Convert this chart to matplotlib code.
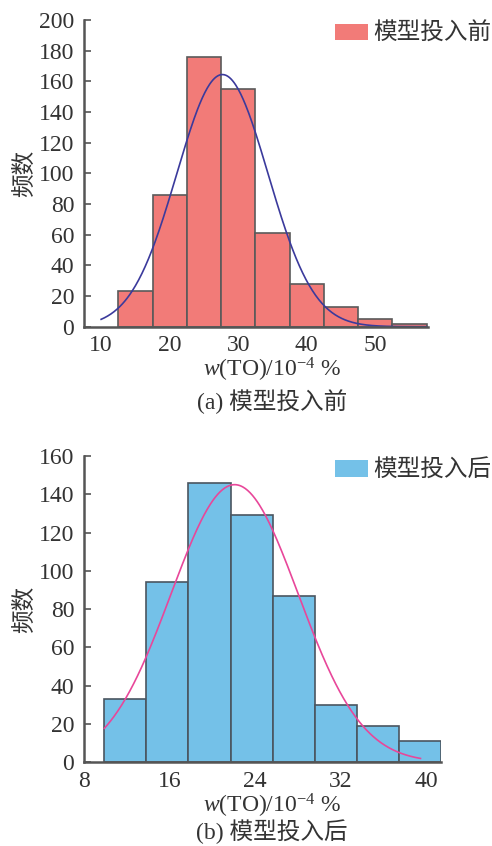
import numpy as np
import matplotlib
matplotlib.use('Agg')
import matplotlib.pyplot as plt

plt.rcParams['font.family'] = ['Liberation Serif', 'Noto Sans CJK SC']
plt.rcParams['mathtext.fontset'] = 'custom'
plt.rcParams['mathtext.rm'] = 'Liberation Serif'
plt.rcParams['mathtext.it'] = 'Liberation Serif:italic'

# Datos (a) modelo antes
edges_a = [12.5, 17.5, 22.5, 27.5, 32.5, 37.5, 42.5, 47.5, 52.5, 57.5]
counts_a = [23, 86, 176, 155, 61, 28, 13, 5, 2]
mu_a, sigma_a = 27.7, 6.66

# Datos (b) modelo después
edges_b = [9.9, 13.84, 17.78, 21.72, 25.66, 29.6, 33.54, 37.48, 41.42]
counts_b = [33, 94, 146, 129, 87, 30, 19, 11]
mu_b, sigma_b = 22.1, 5.95

txt = '#333333'
spine_c = '#555555'
fs = 17

fig = plt.figure(figsize=(4.92, 8.46), dpi=100)
ax1 = fig.add_axes([84/492, 1-326.7/846, (428-84)/492, (326.7-20)/846])
ax2 = fig.add_axes([84/492, 1-762.3/846, (441-84)/492, (762.3-456)/846])


def normal_fit(x, mu, sigma, n, w):
    return n * w / (sigma * np.sqrt(2*np.pi)) * np.exp(-(x-mu)**2 / (2*sigma**2))


def dibujar(ax, edges, counts, mu, sigma, color, ecolor, lcolor, xr, label):
    edges = np.array(edges)
    w = edges[1] - edges[0]
    ax.bar(edges[:-1], counts, width=np.diff(edges), align='edge',
           color=color, edgecolor=ecolor, linewidth=1.2, label=label, zorder=2)
    x = np.linspace(xr[0], xr[1], 400)
    ax.plot(x, normal_fit(x, mu, sigma, sum(counts), w), color=lcolor, lw=1.2, zorder=3)
    for s in ['top', 'right']:
        ax.spines[s].set_visible(False)
    for s in ['left', 'bottom']:
        ax.spines[s].set_color(spine_c)
        ax.spines[s].set_linewidth(1.8)
        ax.spines[s].set_zorder(4)
    ax.tick_params(axis='y', direction='in', length=5, width=1.2, color=spine_c,
                   labelsize=fs, labelcolor=txt, pad=7)
    ax.tick_params(axis='x', length=0, labelsize=fs, labelcolor=txt, pad=6)
    ax.set_ylabel('频数', fontsize=fs, color=txt, labelpad=2)
    ax.set_xlabel('$w$(TO)/10$^{-4}$ %', fontsize=fs, color=txt, labelpad=0)


dibujar(ax1, edges_a, counts_a, mu_a, sigma_a, '#F27B78', '#5a5a5a', '#3B3A9C',
        (10, 57.5), '模型投入前')
ax1.set_xlim(7.5, 57.7)
ax1.set_ylim(0, 200)
ax1.set_xticks([10, 20, 30, 40, 50])
ax1.set_yticks(range(0, 201, 20))
ax1.xaxis.label.set_x((272-84)/344)

dibujar(ax2, edges_b, counts_b, mu_b, sigma_b, '#74C1E8', '#4a5560', '#E8479A',
        (9.9, 39.5), '模型投入后')
ax2.set_xlim(8, 41.42)
ax2.set_ylim(0, 160)
ax2.set_xticks([8, 16, 24, 32, 40])
ax2.set_yticks(range(0, 161, 20))
ax2.xaxis.label.set_x((272-84)/357)

for ax, top in [(ax1, 1-23/846), (ax2, 1-460/846)]:
    leg = ax.legend(loc='upper right', bbox_to_anchor=(0.998, top), bbox_transform=fig.transFigure,
                    frameon=False, fontsize=fs, handlelength=1.4, handletextpad=0.2,
                    borderpad=0, borderaxespad=0)
    for t in leg.get_texts():
        t.set_color(txt)
    for p in leg.get_patches():
        p.set_edgecolor('none')

fig.text(272/492, 1-402/846, '(a) 模型投入前', ha='center', va='center', fontsize=fs, color=txt)
fig.text(272/492, 1-832/846, '(b) 模型投入后', ha='center', va='center', fontsize=fs, color=txt)

fig.savefig('out.png', dpi=100)
